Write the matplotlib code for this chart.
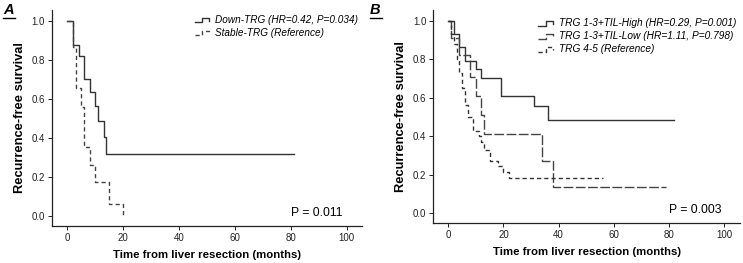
import numpy as np
import matplotlib
matplotlib.use("Agg")
import matplotlib.pyplot as plt
from matplotlib.lines import Line2D
from matplotlib.legend_handler import HandlerLine2D

plt.rcParams['font.family'] = ['Liberation Sans', 'DejaVu Sans']

# Panel A: Kaplan-Meier step data (time in months, survival)
a_down_t = [0, 2, 4, 6, 8, 10, 11, 13, 14, 81]
a_down_s = [1.0, 0.88, 0.82, 0.705, 0.635, 0.565, 0.485, 0.405, 0.32, 0.32]
a_stable_t = [0, 2, 3, 5, 6, 8, 10, 15, 20]
a_stable_s = [1.0, 0.87, 0.655, 0.56, 0.355, 0.26, 0.175, 0.06, 0.0]

# Panel B
b_high_t = [0, 2, 4, 6, 10, 12, 19, 31, 36, 82]
b_high_s = [1.0, 0.93, 0.865, 0.79, 0.75, 0.705, 0.61, 0.555, 0.485, 0.485]
b_low_t = [0, 1, 4, 8, 10, 12, 13, 34, 38, 79]
b_low_s = [1.0, 0.91, 0.82, 0.71, 0.61, 0.51, 0.41, 0.27, 0.135, 0.135]
b_ref_t = [0, 1, 2, 3, 4, 5, 6, 7, 9, 11, 12, 13, 15, 18, 20, 22, 56]
b_ref_s = [1.0, 0.93, 0.88, 0.80, 0.73, 0.65, 0.56, 0.50, 0.43, 0.40, 0.37,
           0.33, 0.27, 0.245, 0.215, 0.185, 0.185]

a_labels = ["Down-TRG (HR=0.42, P=0.034)", "Stable-TRG (Reference)"]
b_labels = ["TRG 1-3+TIL-High (HR=0.29, P=0.001)",
            "TRG 1-3+TIL-Low (HR=1.11, P=0.798)",
            "TRG 4-5 (Reference)"]
p_values = ["P = 0.011", "P = 0.003"]

x_ticks = [0, 20, 40, 60, 80, 100]
y_ticks = [0.0, 0.2, 0.4, 0.6, 0.8, 1.0]

solid = '-'
long_dash = (0, (7.0, 1.8))
short_dash = (0, (3.0, 2.2))
line_col = '#333333'


class StepHandler(HandlerLine2D):
    # little step-shaped legend key like SPSS output
    def create_artists(self, legend, orig_handle, xdescent, ydescent,
                       width, height, fontsize, trans):
        xs = np.array([0.0, 0.45, 0.45, 0.9, 0.9]) * width - xdescent
        ys = np.array([0.1, 0.1, 0.75, 0.75, 0.35]) * height - ydescent
        line = Line2D(xs, ys)
        self.update_prop(line, orig_handle, legend)
        line.set_transform(trans)
        return [line]


def style_axes(ax, xlim, ylim):
    ax.set_xlim(*xlim)
    ax.set_ylim(*ylim)
    ax.set_xticks(x_ticks)
    ax.set_yticks(y_ticks)
    ax.set_yticklabels([f"{v:.1f}" for v in y_ticks])
    for s in ['top', 'right']:
        ax.spines[s].set_visible(False)
    for s in ['left', 'bottom']:
        ax.spines[s].set_linewidth(0.9)
        ax.spines[s].set_color('#222222')
    ax.tick_params(direction='out', length=3, width=0.7, labelsize=7,
                   colors='#222222', pad=2)
    ax.set_xlabel("Time from liver resection (months)", fontsize=8.2,
                  fontweight='bold', labelpad=5)
    ax.set_ylabel("Recurrence-free survival", fontsize=9.3,
                  fontweight='bold', labelpad=4)


fig = plt.figure(figsize=(7.43, 2.63), dpi=100)
axA = fig.add_axes([0.0696, 0.1418, 0.4172, 0.820])
axB = fig.add_axes([0.5832, 0.151, 0.4128, 0.811])

hA1, = axA.step(a_down_t, a_down_s, where='post', color=line_col, lw=1.0, ls=solid)
hA2, = axA.step(a_stable_t, a_stable_s, where='post', color='#444444', lw=1.0, ls=short_dash)
style_axes(axA, (-5.6, 105.4), (-0.051, 1.058))
axA.legend([hA1, hA2], a_labels, loc='upper right', frameon=False,
           prop={'style': 'italic', 'size': 7.2}, handlelength=1.6,
           handletextpad=0.4, labelspacing=0.3, borderaxespad=0.0,
           bbox_to_anchor=(1.0, 0.995),
           handler_map={Line2D: StepHandler()})
axA.text(98.7, 0.0, p_values[0], ha='right', va='baseline', fontsize=8.8)

hB1, = axB.step(b_high_t, b_high_s, where='post', color=line_col, lw=1.0, ls=solid)
hB2, = axB.step(b_low_t, b_low_s, where='post', color='#444444', lw=1.0, ls=long_dash)
hB3, = axB.step(b_ref_t, b_ref_s, where='post', color='#333333', lw=1.0, ls=short_dash)
style_axes(axB, (-5.44, 105.8), (-0.052, 1.056))
axB.legend([hB1, hB2, hB3], b_labels, loc='upper right', frameon=False,
           prop={'style': 'italic', 'size': 7.3}, handlelength=1.6,
           handletextpad=0.4, labelspacing=0.3, borderaxespad=0.0,
           bbox_to_anchor=(1.0, 0.98),
           handler_map={Line2D: StepHandler()})
axB.text(99.2, 0.0, p_values[1], ha='right', va='baseline', fontsize=8.8)

# panel letters (bold italic, underlined)
for letter, xpos in [("A", 0.004), ("B", 0.498)]:
    fig.text(xpos, 0.945, letter, fontsize=10.5, fontweight='bold',
             style='italic', ha='left', va='baseline')
    fig.add_artist(Line2D([xpos, xpos + 0.016], [0.93, 0.93],
                          color='black', lw=1.0, transform=fig.transFigure))

fig.savefig("out.png", dpi=100)
